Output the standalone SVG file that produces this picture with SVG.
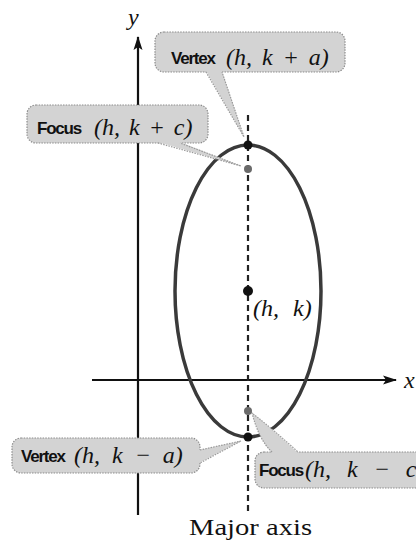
<svg xmlns="http://www.w3.org/2000/svg" width="416" height="542" viewBox="0 0 416 542">
<defs>
<marker id="arr" viewBox="0 0 14 10" refX="13" refY="5" markerWidth="14" markerHeight="10" markerUnits="userSpaceOnUse" orient="auto">
<path d="M0,0.5 L14,5 L0,9.5 L3,5 Z" fill="#111"/>
</marker>
</defs>
<style>
.axis{stroke:#111;stroke-width:2.2;fill:none}
.major{stroke:#222;stroke-width:2.2;stroke-dasharray:6 4;fill:none}
.ell{fill:none;stroke:#3a3a3a;stroke-width:3.5}
.box{fill:#d3d3d3;stroke:#8c8c8c;stroke-width:1.2;stroke-dasharray:1.5 1.2}
.ptr{fill:#d3d3d3;stroke:none}
.ptrl{fill:none;stroke:#9a9a9a;stroke-width:1.2;stroke-dasharray:1.5 1.2}
.w{font-family:"Liberation Sans",Arial,sans-serif;font-weight:700;font-size:17px;letter-spacing:-1.2px;fill:#111}
.m{font-family:"Liberation Serif","Times New Roman",serif;font-size:24px;fill:#111}
.i{font-style:italic}
.v{fill:#111}
.f{fill:#6a6a6a}
</style>
<g id="axes">
<line class="axis" x1="138" y1="515" x2="138" y2="37" marker-end="url(#arr)"/>
<line class="axis" x1="92" y1="380" x2="396" y2="380" marker-end="url(#arr)"/>
<text class="m i" x="128" y="25" font-size="22">y</text>
<text class="m i" x="404" y="388" font-size="22">x</text>
</g>
<g id="ellipse">
<ellipse class="ell" cx="248" cy="291" rx="73" ry="146"/>
</g>
<g id="major-axis">
<line class="major" x1="248" y1="115" x2="248" y2="513"/>
<text class="m" x="189" y="535" font-size="24" textLength="123" lengthAdjust="spacingAndGlyphs">Major axis</text>
</g>
<g id="label-vertex-top">
<rect class="box" x="155" y="32" width="190" height="40" rx="9"/>
<text class="w" x="171" y="64" font-size="17">Vertex</text>
<text class="m i" x="226" y="65" word-spacing="4">(h, k + a)</text>
</g>
<g id="label-focus-top">
<rect class="box" x="27" y="105" width="181" height="38" rx="9"/>
<text class="w" x="37" y="134" font-size="18">Focus</text>
<text class="m i" x="94" y="135" word-spacing="3">(h, k + c)</text>
</g>
<g id="label-vertex-bottom">
<rect class="box" x="12" y="438" width="188" height="35" rx="9"/>
<text class="w" x="21" y="462" font-size="16.5">Vertex</text>
<text class="m i" x="74" y="463" font-size="25" word-spacing="6">(h, k − a)</text>
</g>
<g id="label-focus-bottom">
<rect class="box" x="255" y="452" width="175" height="36" rx="9"/>
<text class="w" x="259" y="476" font-size="12">Focus</text>
<text class="m i" x="305" y="477" font-size="22" word-spacing="10">(h, k − c</text>
</g>
<g id="connectors">
<path class="ptr" d="M206,71 L222,71 L244,137 Z"/>
<polyline class="ptrl" points="206,72 244,137 222,72"/>
<path class="ptr" d="M158,142 L180,142 L241,166 Z"/>
<polyline class="ptrl" points="158,143 241,166 180,143"/>
<path class="ptr" d="M199,450 L199,463 L241,441 Z"/>
<polyline class="ptrl" points="200,450 241,441 200,463"/>
<path class="ptr" d="M252,413 Q259,440 272,453 L298,453 Q274,430 252,413 Z"/>
<path class="ptrl" d="M272,452 Q259,440 252,413 Q274,430 298,452"/>
</g>
<g id="points">
<circle class="v" cx="248" cy="145" r="4.5"/>
<circle class="f" cx="248" cy="169" r="4"/>
<circle class="v" cx="248" cy="291" r="5"/>
<circle class="f" cx="248" cy="411" r="4"/>
<circle class="v" cx="248" cy="437" r="4.5"/>
</g>
<g id="center-label">
<text class="m i" x="253" y="316" font-size="25" word-spacing="8">(h, k)</text>
</g>
</svg>
